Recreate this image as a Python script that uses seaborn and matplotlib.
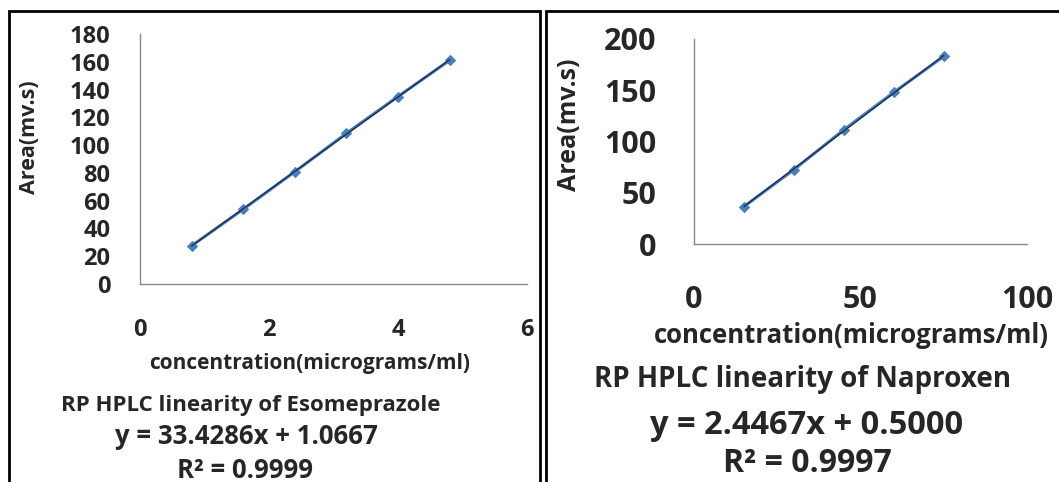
import matplotlib
matplotlib.use("Agg")
import matplotlib.pyplot as plt
import seaborn as sns
import pandas as pd
from matplotlib.patches import Rectangle

# data
eso_conc = [0.8, 1.6, 2.4, 3.2, 4.0, 4.8]
eso_area = [27.5, 53.8, 80.8, 108.5, 135.0, 161.0]
nap_conc = [15, 30, 45, 60, 75]
nap_area = [36.5, 72.5, 111.5, 148.0, 183.0]

eso_title = "RP HPLC linearity of Esomeprazole"
eso_eq = "y = 33.4286x + 1.0667"
eso_r2 = "R² = 0.9999"
nap_title = "RP HPLC linearity of Naproxen"
nap_eq = "y = 2.4467x + 0.5000"
nap_r2 = "R² = 0.9997"

xlab = "concentration(micrograms/ml)"
ylab = "Area(mv.s)"

sns.set_style("white")
plt.rcParams['font.family'] = ['Open Sans', 'DejaVu Sans']
plt.rcParams['font.weight'] = 'bold'

W, H = 1059, 482
fig = plt.figure(figsize=(W / 100, H / 100), dpi=100)

def px_axes(x0, x1, y0, y1):
    return fig.add_axes([x0 / W, 1 - y0 / H, (x1 - x0) / W, (y0 - y1) / H])

ax1 = px_axes(140, 527, 284, 34)
ax2 = px_axes(694, 1027, 244, 39)

blue = "#4A7EBB"
dark = "#1C2F50"

def draw(ax, x, y, xlim, ylim, xt, yt, fs, xpad, ypad, xlen, ylen, xfs, yfs):
    df = pd.DataFrame({"c": x, "a": y})
    sns.lineplot(data=df, x="c", y="a", ax=ax, color=blue, lw=2.2,
                 marker="D", markersize=5.5, markeredgecolor=blue)
    sns.regplot(data=df, x="c", y="a", ax=ax, scatter=False, ci=None,
                line_kws={"color": dark, "lw": 1.0})
    ax.set_xlim(xlim)
    ax.set_ylim(ylim)
    ax.set_xticks(xt)
    ax.set_yticks(yt)
    for s in ["top", "right"]:
        ax.spines[s].set_visible(False)
    for s in ["left", "bottom"]:
        ax.spines[s].set_color("#888888")
        ax.spines[s].set_linewidth(1.0)
    ax.tick_params(axis="both", direction="out", color="#888888", width=1.0,
                   labelsize=fs)
    ax.tick_params(axis="y", length=ylen, pad=ypad)
    ax.tick_params(axis="x", length=xlen, pad=xpad)
    for lbl in ax.get_xticklabels() + ax.get_yticklabels():
        lbl.set_fontweight("bold")
    ax.set_xlabel(xlab, fontsize=xfs, fontweight="bold")
    ax.set_ylabel(ylab, fontsize=yfs, fontweight="bold")

draw(ax1, eso_conc, eso_area, (0, 6), (0, 180), [0, 2, 4, 6],
     range(0, 181, 20), 17, 17, 13, 7.5, 8.5, 15, 15.5)
draw(ax2, nap_conc, nap_area, (0, 100), (0, 200), [0, 50, 100],
     range(0, 201, 50), 22, 21, 17, 8.5, 10, 18.5, 18)

ax1.xaxis.set_label_coords(0.439, -0.276)
ax1.yaxis.set_label_coords(-0.258, 0.588)
ax2.xaxis.set_label_coords(0.473, -0.38)
ax2.yaxis.set_label_coords(-0.336, 0.58)

# captions under each plot
fig.text(251 / W, 1 - 405 / H, eso_title, ha="center", va="center", fontsize=16, fontweight="bold")
fig.text(246 / W, 1 - 436 / H, eso_eq, ha="center", va="center", fontsize=18.5, fontweight="bold")
fig.text(245 / W, 1 - 470 / H, eso_r2, ha="center", va="center", fontsize=18.5, fontweight="bold")
fig.text(803 / W, 1 - 380 / H, nap_title, ha="center", va="center", fontsize=20, fontweight="bold")
fig.text(807 / W, 1 - 425 / H, nap_eq, ha="center", va="center", fontsize=23.5, fontweight="bold")
fig.text(807 / W, 1 - 463 / H, nap_r2, ha="center", va="center", fontsize=23, fontweight="bold")

# panel frames
fig.patches.append(Rectangle((9 / W, -0.1), 531 / W, 1.1 - 11 / H, transform=fig.transFigure,
                             fill=False, ec="black", lw=2.0))
fig.patches.append(Rectangle((546 / W, -0.1), 0.6, 1.1 - 11 / H, transform=fig.transFigure,
                             fill=False, ec="black", lw=2.0))

fig.savefig("out.png", dpi=100)
